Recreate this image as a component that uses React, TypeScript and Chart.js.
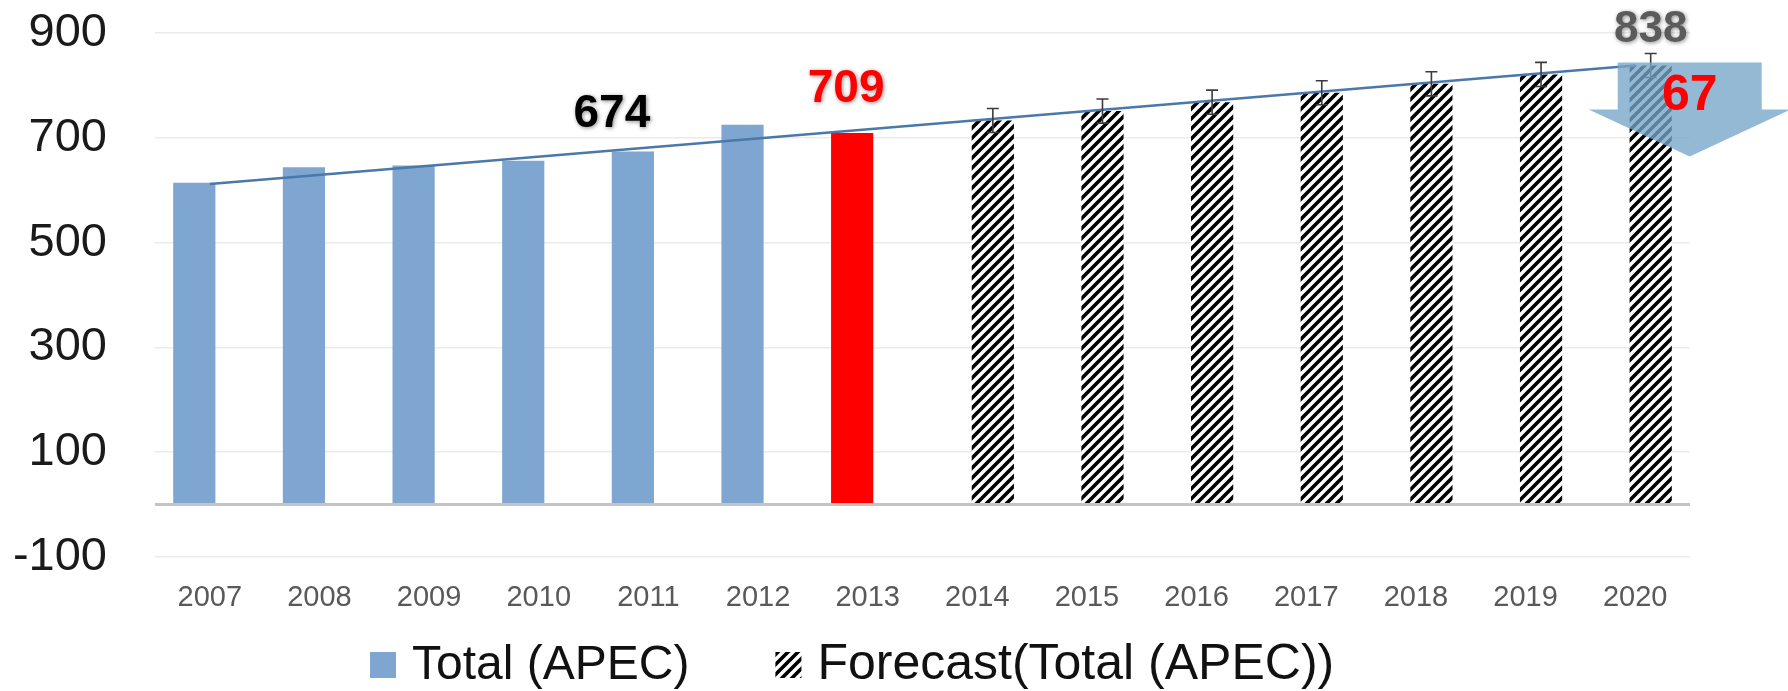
import React, { useEffect, useRef } from 'react';
import { Chart, registerables } from 'chart.js';

Chart.register(...registerables);

// ---------------- data ----------------
const years = ['2007', '2008', '2009', '2010', '2011', '2012', '2013', '2014', '2015', '2016', '2017', '2018', '2019', '2020'];
const totalValues: (number | null)[] = [614, 644, 647, 656, 674, 725, 709, null, null, null, null, null, null, null];
const forecastValues: (number | null)[] = [null, null, null, null, null, null, null, 733, 751, 768, 786, 803, 821, 838];
const forecastError: (number | null)[] = [null, null, null, null, null, null, null, 23, 23, 23, 23, 23, 23, 23];
const trendValues: (number | null)[] = [612, null, null, null, null, null, null, null, null, null, null, null, null, 838];
const highlightYear = '2013';
const yTickValues = [-100, 100, 300, 500, 700, 900];
const seriesNames = ['Total (APEC)', 'Forecast(Total (APEC))'];
const labelledPoints = [
  { year: '2011', series: 0, color: '#000000', dx: -21, dy: -37, size: 46 },
  { year: '2013', series: 0, color: '#ff0000', dx: -6, dy: -44, size: 46 },
  { year: '2020', series: 1, color: '#5b5b5b', dx: 0, dy: -36, size: 44 },
];
const arrowYear = '2020';
const arrowText = '67';

// ---------------- styles ----------------
const BLUE = '#7fa6d0';
const RED = '#ff0000';
const FONT = "'Liberation Sans', Arial, sans-serif";

function makeHatch(): CanvasPattern | string {
  const c = document.createElement('canvas');
  c.width = 10;
  c.height = 10;
  const g = c.getContext('2d');
  if (!g) return '#000';
  g.fillStyle = '#ffffff';
  g.fillRect(0, 0, 10, 10);
  g.strokeStyle = '#000000';
  g.lineWidth = 3.6;
  g.lineCap = 'square';
  g.beginPath();
  g.moveTo(-5, 5); g.lineTo(5, -5);
  g.moveTo(0, 10); g.lineTo(10, 0);
  g.moveTo(5, 15); g.lineTo(15, 5);
  g.stroke();
  const p = g.createPattern(c, 'repeat');
  return p || '#000';
}

export default function App() {
  const ref = useRef<HTMLCanvasElement | null>(null);

  useEffect(() => {
    document.body.style.margin = '0';
    const canvas = ref.current;
    if (!canvas) return;
    const hatch = makeHatch();

    const zeroLine = {
      id: 'zeroLine',
      afterDatasetsDraw(chart: any) {
        const { ctx, chartArea, scales } = chart;
        const y = scales.y.getPixelForValue(0);
        ctx.save();
        ctx.strokeStyle = '#c4c4c4';
        ctx.lineWidth = 3;
        ctx.beginPath();
        ctx.moveTo(chartArea.left, y);
        ctx.lineTo(chartArea.right, y);
        ctx.stroke();
        ctx.restore();
      },
    };

    const errorBars = {
      id: 'errorBars',
      afterDatasetsDraw(chart: any) {
        const { ctx, scales } = chart;
        const meta = chart.getDatasetMeta(1);
        ctx.save();
        ctx.strokeStyle = '#3c3c3c';
        ctx.lineWidth = 1.6;
        forecastValues.forEach((v, i) => {
          const e = forecastError[i];
          if (v == null || e == null) return;
          const el = meta.data[i];
          const x = el.x;
          const yt = scales.y.getPixelForValue(v + e);
          const yb = scales.y.getPixelForValue(v - e);
          ctx.beginPath();
          ctx.moveTo(x, yt); ctx.lineTo(x, yb);
          ctx.moveTo(x - 6, yt); ctx.lineTo(x + 6, yt);
          ctx.moveTo(x - 6, yb); ctx.lineTo(x + 6, yb);
          ctx.stroke();
        });
        ctx.restore();
      },
    };

    const annotations = {
      id: 'annotations',
      afterDraw(chart: any) {
        const { ctx, scales } = chart;
        // arrow
        const ai = years.indexOf(arrowYear);
        const am = chart.getDatasetMeta(1).data[ai];
        const av = forecastValues[ai] as number;
        const cx = am.x + 39;
        const top = scales.y.getPixelForValue(av) - 3;
        ctx.save();
        ctx.fillStyle = 'rgba(118,165,200,0.78)';
        ctx.beginPath();
        ctx.moveTo(cx - 72, top);
        ctx.lineTo(cx + 72, top);
        ctx.lineTo(cx + 72, top + 47);
        ctx.lineTo(cx + 101, top + 47);
        ctx.lineTo(cx, top + 94);
        ctx.lineTo(cx - 101, top + 47);
        ctx.lineTo(cx - 72, top + 47);
        ctx.closePath();
        ctx.fill();
        ctx.fillStyle = RED;
        ctx.font = `bold 50px ${FONT}`;
        ctx.textAlign = 'center';
        ctx.textBaseline = 'alphabetic';
        ctx.fillText(arrowText, cx, top + 48);
        ctx.restore();

        // value labels
        labelledPoints.forEach((lp) => {
          const i = years.indexOf(lp.year);
          const arr = lp.series === 0 ? totalValues : forecastValues;
          const v = arr[i] as number;
          const el = chart.getDatasetMeta(lp.series).data[i];
          const x = el.x + lp.dx;
          const y = scales.y.getPixelForValue(v) + lp.dy;
          ctx.save();
          ctx.font = `bold ${lp.size}px ${FONT}`;
          ctx.textAlign = 'center';
          ctx.textBaseline = 'middle';
          ctx.shadowColor = 'rgba(0,0,0,0.45)';
          ctx.shadowBlur = 4;
          ctx.shadowOffsetX = 1;
          ctx.shadowOffsetY = 1;
          ctx.fillStyle = lp.color;
          ctx.fillText(String(v), x, y);
          ctx.restore();
        });

        // legend
        ctx.save();
        ctx.textBaseline = 'alphabetic';
        ctx.textAlign = 'left';
        const baseY = 679;
        let x = 370;
        const colors = [BLUE, hatch];
        const sizes = [48, 50];
        seriesNames.forEach((name, k) => {
          ctx.font = `${sizes[k]}px ${FONT}`;
          ctx.fillStyle = colors[k] as any;
          ctx.fillRect(x, baseY - 27, 26, 26);
          x += 26 + 16;
          ctx.fillStyle = '#111111';
          ctx.fillText(name, x, baseY);
          x += ctx.measureText(name).width + 86;
        });
        ctx.restore();
      },
    };

    const chart = new Chart(canvas, {
      type: 'bar',
      data: {
        labels: years,
        datasets: [
          {
            type: 'bar',
            label: seriesNames[0],
            data: totalValues,
            backgroundColor: years.map((y) => (y === highlightYear ? RED : BLUE)),
            borderWidth: 0,
            categoryPercentage: 0.566,
            barPercentage: 1.36,
            order: 2,
          } as any,
          {
            type: 'bar',
            label: seriesNames[1],
            data: forecastValues,
            backgroundColor: hatch as any,
            borderWidth: 0,
            categoryPercentage: 0.566,
            barPercentage: 1.36,
            order: 2,
          } as any,
          {
            type: 'line',
            label: 'trend',
            data: trendValues,
            spanGaps: true,
            borderColor: '#4a78aa',
            borderWidth: 2.5,
            pointRadius: 0,
            fill: false,
            order: 0,
          } as any,
        ],
      },
      options: {
        animation: false,
        responsive: false,
        devicePixelRatio: 1,
        layout: { padding: { top: 33, right: 98, bottom: 78, left: 0 } },
        plugins: {
          legend: { display: false },
          tooltip: { enabled: false },
        },
        scales: {
          x: {
            type: 'category',
            offset: true,
            grid: { display: false },
            border: { display: false },
            ticks: {
              color: '#595959',
              font: { family: FONT, size: 29 },
              padding: 16,
              maxRotation: 0,
              autoSkip: false,
            },
            afterFit: (scale: any) => {
              scale.height = 56;
              scale.paddingLeft = 0;
              scale.paddingRight = 0;
            },
          },
          y: {
            min: -100,
            max: 900,
            grid: { color: '#ebebeb', lineWidth: 1.5, drawTicks: false },
            border: { display: false },
            ticks: {
              color: '#1a1a1a',
              font: { family: FONT, size: 47 },
              padding: 48,
            },
            afterBuildTicks: (scale: any) => {
              scale.ticks = yTickValues.map((v) => ({ value: v }));
            },
            afterFit: (scale: any) => {
              scale.width = 155;
              scale.paddingTop = 0;
              scale.paddingBottom = 0;
            },
          },
        },
      },
      plugins: [zeroLine, errorBars, annotations],
    });

    return () => chart.destroy();
  }, []);

  return <canvas ref={ref} width={1788} height={691} style={{ display: 'block' }} />;
}
